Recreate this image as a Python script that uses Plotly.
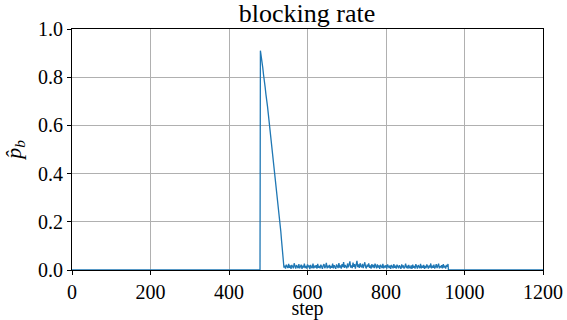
import plotly.graph_objects as go

# idle phase before any blocking
pre_steps = [0, 479]
pre_vals = [0.0, 0.0]

# sharp onset and decline (every 2 steps from 480)
decline_start = 480
decline_vals = [0.91, 0.89, 0.86, 0.84, 0.81, 0.79, 0.76, 0.73, 0.71, 0.68,
                0.65, 0.62, 0.60, 0.57, 0.54, 0.51, 0.48, 0.45, 0.42, 0.39,
                0.36, 0.33, 0.30, 0.27, 0.23, 0.20, 0.16, 0.12, 0.08, 0.04]

# low residual blocking (every 2 steps from 540 to 958)
resid_start = 540
resid_vals = [
    0.010, 0.018, 0.006, 0.022, 0.012, 0.008, 0.025, 0.009, 0.019, 0.005, 0.021, 0.013, 0.007, 0.028, 0.011, 0.006, 0.020, 0.014, 0.008, 0.024,
    0.007, 0.015, 0.022, 0.005, 0.018, 0.010, 0.026, 0.008, 0.017, 0.006, 0.023, 0.011, 0.019, 0.004, 0.021, 0.012, 0.008, 0.027, 0.007, 0.018,
    0.010, 0.020, 0.006, 0.025, 0.009, 0.017, 0.007, 0.022, 0.012, 0.005, 0.019, 0.024, 0.008, 0.014, 0.030, 0.007, 0.018, 0.010, 0.021, 0.006,
    0.017, 0.009, 0.026, 0.007, 0.020, 0.011, 0.005, 0.023, 0.015, 0.008, 0.029, 0.010, 0.019, 0.006, 0.024, 0.012, 0.033, 0.009, 0.021, 0.014,
    0.007, 0.027, 0.011, 0.022, 0.036, 0.010, 0.019, 0.008, 0.031, 0.013, 0.024, 0.006, 0.020, 0.038, 0.012, 0.023, 0.009, 0.028, 0.015, 0.011,
    0.025, 0.008, 0.020, 0.032, 0.012, 0.007, 0.022, 0.014, 0.027, 0.009, 0.019, 0.006, 0.024, 0.011, 0.021, 0.008, 0.026, 0.013, 0.007, 0.023,
    0.010, 0.019, 0.005, 0.022, 0.012, 0.008, 0.025, 0.007, 0.018, 0.010, 0.020, 0.006, 0.023, 0.011, 0.008, 0.019, 0.005, 0.021, 0.012, 0.007,
    0.024, 0.009, 0.018, 0.006, 0.022, 0.011, 0.007, 0.020, 0.013, 0.005, 0.023, 0.010, 0.019, 0.006, 0.014, 0.026, 0.008, 0.018, 0.006, 0.021,
    0.011, 0.007, 0.019, 0.005, 0.022, 0.009, 0.017, 0.006, 0.024, 0.010, 0.006, 0.020, 0.012, 0.008, 0.025, 0.007, 0.018, 0.009, 0.021, 0.005,
    0.017, 0.008, 0.023, 0.011, 0.006, 0.019, 0.010, 0.027, 0.007, 0.018, 0.009, 0.022, 0.006, 0.013, 0.024, 0.008, 0.019, 0.026, 0.007, 0.016,
    0.012, 0.020, 0.007, 0.024, 0.010, 0.017, 0.006, 0.021, 0.013, 0.025,
]

# idle phase after the run
post_steps = [959, 1200]
post_vals = [0.0, 0.0]

x_ticks = [0, 200, 400, 600, 800, 1000, 1200]
y_ticks = [0.0, 0.2, 0.4, 0.6, 0.8, 1.0]

decline_steps = list(range(decline_start, decline_start + 2 * len(decline_vals), 2))
resid_steps = list(range(resid_start, resid_start + 2 * len(resid_vals), 2))

steps = pre_steps + decline_steps + resid_steps + post_steps
rate = pre_vals + decline_vals + resid_vals + post_vals

font = "Liberation Serif"

fig = go.Figure()
fig.add_trace(go.Scatter(x=steps, y=rate, mode="lines",
                         line=dict(color="#1f77b4", width=1.3),
                         showlegend=False))

axis_common = dict(showline=True, linecolor="black", linewidth=1, mirror=True,
                   ticks="outside", ticklen=4, tickcolor="black",
                   showgrid=True, gridcolor="#b0b0b0", gridwidth=1,
                   zeroline=False, automargin=False,
                   tickfont=dict(family=font, size=20, color="black"))

fig.update_xaxes(range=[0, 1200], tickvals=x_ticks,
                 title=dict(text="step", font=dict(family=font, size=20, color="black"), standoff=1),
                 **axis_common)
fig.update_yaxes(range=[0, 1.0], tickvals=y_ticks, tickformat=".1f",
                 title=dict(text="<i>p\u0302</i><sub><i>b</i></sub>",
                            font=dict(family=font, size=22, color="black"), standoff=10),
                 **axis_common)

fig.update_layout(
    width=567, height=320,
    margin=dict(l=72, r=24, t=29, b=50),
    paper_bgcolor="white", plot_bgcolor="white",
    font=dict(family=font, color="black"),
    title=dict(text="blocking rate", x=0.5415, xanchor="center", y=0.93, yanchor="bottom",
               font=dict(family=font, size=26, color="black")),
)

fig.write_html("out.html")
